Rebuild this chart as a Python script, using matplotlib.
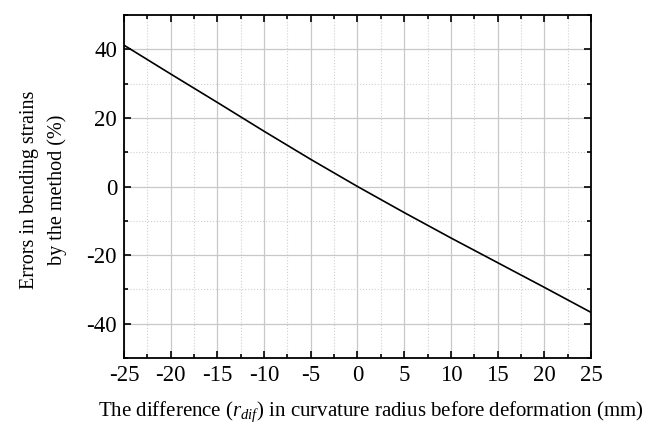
import numpy as np
from matplotlib import pyplot as plt
from matplotlib.ticker import MultipleLocator, FuncFormatter

plt.rcParams['font.family'] = 'Liberation Serif'
plt.rcParams['mathtext.fontset'] = 'custom'
plt.rcParams['mathtext.rm'] = 'Liberation Serif'
plt.rcParams['mathtext.it'] = 'Liberation Serif:italic'
plt.rcParams['axes.unicode_minus'] = False

# difference in curvature radius (mm) vs error (%)
r_dif = [-25, -20, -15, -10, -5, 0, 5, 10, 15, 20, 25]
error = [41.2, 32.8, 24.5, 16.1, 7.9, 0.0, -7.6, -15.0, -22.2, -29.4, -36.7]

fig = plt.figure(figsize=(6.49, 4.29), dpi=100)
ax = fig.add_axes([124/649, 1 - 358/429, (591-124)/649, (358-15)/429])

ax.plot(r_dif, error, color='black', linewidth=1.2)

ax.set_xlim(-25, 25)
ax.set_ylim(-50, 50)
ax.xaxis.set_major_locator(MultipleLocator(5))
ax.xaxis.set_minor_locator(MultipleLocator(2.5))
ax.yaxis.set_major_locator(MultipleLocator(20))
ax.yaxis.set_minor_locator(MultipleLocator(10))
ax.xaxis.set_major_formatter(FuncFormatter(lambda v, p: '%d' % v))
ax.yaxis.set_major_formatter(FuncFormatter(lambda v, p: '%d' % v))

ax.grid(which='major', color='#c8c8c8', linestyle='-', linewidth=0.9)
ax.grid(which='minor', color='#d0d0d0', linestyle=':', linewidth=0.8)
ax.set_axisbelow(True)

ax.tick_params(which='both', direction='in', top=True, right=True, labelsize=16.5, width=1.2)
ax.tick_params(which='major', length=5, pad=5)
ax.tick_params(which='minor', length=3)
for s in ax.spines.values():
    s.set_linewidth(1.3)

ax.set_xlabel('The difference ($r_{\\mathit{dif}}$) in curvature radius before deformation (mm)', fontsize=15)
ax.xaxis.set_label_coords(0.528, -0.122)
ax.set_ylabel('Errors in bending strains\nby the method (%)', fontsize=14.5, linespacing=1.55)
ax.yaxis.set_label_coords(-0.122, 0.49)

fig.savefig('out.png', dpi=100)
